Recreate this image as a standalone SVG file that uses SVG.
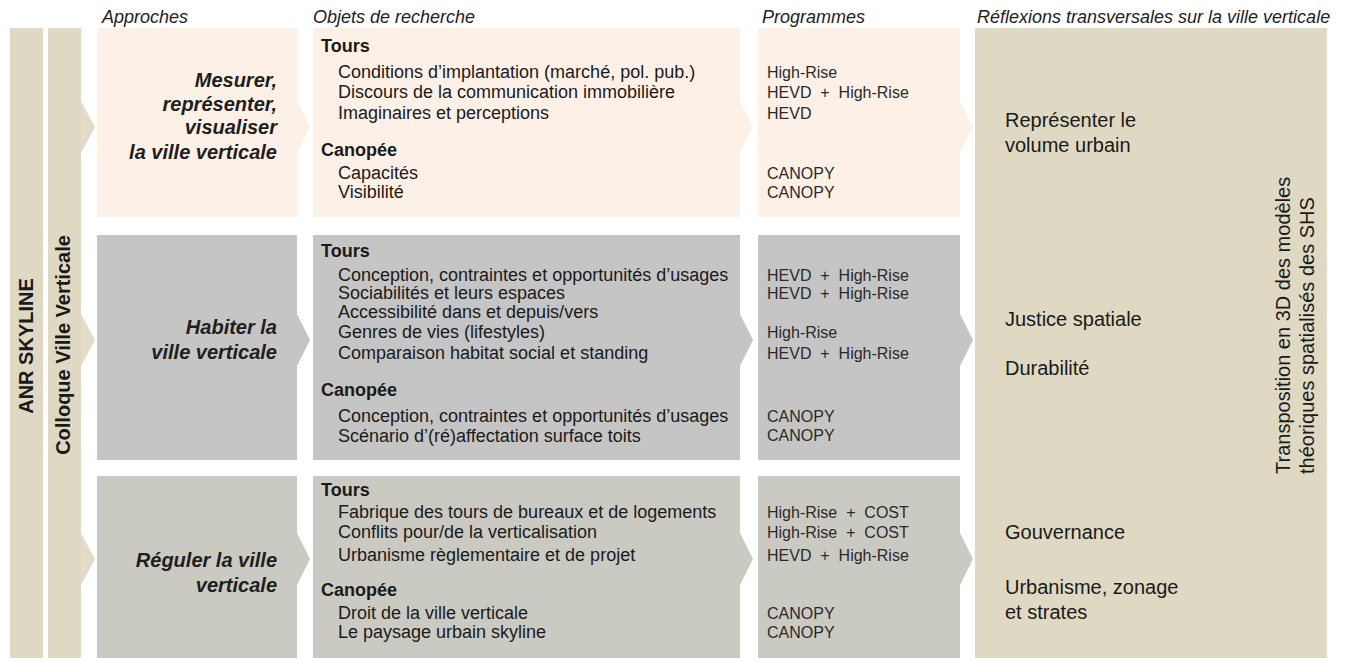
<svg xmlns="http://www.w3.org/2000/svg" width="1352" height="661" viewBox="0 0 1352 661">
<style>
.hdr{font-family:"Liberation Sans",Arial,sans-serif;font-size:18px;font-style:italic;fill:#222}
.bar{fill:#DFD9C3}
.chev0{fill:#E3DDC8}
.r1{fill:#FDF1E7}
.r2{fill:#C5C5C5}
.r3{fill:#CACAC3}
.appr{font-family:"Liberation Sans",Arial,sans-serif;font-size:20px;font-weight:bold;font-style:italic;fill:#1e1e1e;text-anchor:end}
.sec{font-family:"Liberation Sans",Arial,sans-serif;font-size:18px;font-weight:bold;fill:#1a1a1a}
.item{font-family:"Liberation Sans",Arial,sans-serif;font-size:18px;fill:#1a1a1a}
.prog{font-family:"Liberation Sans",Arial,sans-serif;font-size:16px;fill:#2a2a2a;white-space:pre}
.refl{font-family:"Liberation Sans",Arial,sans-serif;font-size:20px;fill:#1a1a1a}
.vbold{font-family:"Liberation Sans",Arial,sans-serif;font-size:20px;font-weight:bold;fill:#1a1a1a}
</style>

<g id="headers">
<text class="hdr" x="102" y="23">Approches</text>
<text class="hdr" x="313" y="23">Objets de recherche</text>
<text class="hdr" x="762" y="23">Programmes</text>
<text class="hdr" x="977" y="23">Réflexions transversales sur la ville verticale</text>
</g>

<g id="anr-skyline">
<rect class="bar" x="10" y="28" width="33" height="630"/>
<text class="vbold" text-anchor="middle" transform="translate(33,346) rotate(-90)">ANR SKYLINE</text>
</g>

<g id="colloque">
<rect class="bar" x="48" y="28" width="33" height="630"/>
<text class="vbold" text-anchor="middle" transform="translate(70,345) rotate(-90)">Colloque Ville Verticale</text>
</g>

<g id="connectors">
<polygon class="chev0" points="81,101 95,127 81,153"/>
<polygon class="chev0" points="81,314 95,340 81,366"/>
<polygon class="chev0" points="81,533 95,559 81,585"/>
<polygon class="r1" points="297,101 310,127 297,153"/>
<polygon class="r1" points="740,101 753,127 740,153"/>
<polygon class="r1" points="960,101 973,127 960,153"/>
<polygon class="r2" points="297,314 310,340 297,366"/>
<polygon class="r2" points="740,314 753,340 740,366"/>
<polygon class="r2" points="960,314 973,340 960,366"/>
<polygon class="r3" points="297,533 310,559 297,585"/>
<polygon class="r3" points="740,533 753,559 740,585"/>
<polygon class="r3" points="960,533 973,559 960,585"/>
</g>

<g id="approach-1">
<rect class="r1" x="97" y="28" width="200" height="189"/>
<text class="appr" x="277" y="87">Mesurer,</text>
<text class="appr" x="277" y="111">représenter,</text>
<text class="appr" x="277" y="134">visualiser</text>
<text class="appr" x="277" y="159">la ville verticale</text>
</g>

<g id="objects-1">
<rect class="r1" x="313" y="28" width="427" height="189"/>
<text class="sec" x="321" y="52">Tours</text>
<text class="item" x="338" y="78">Conditions d’implantation (marché, pol. pub.)</text>
<text class="item" x="338" y="98">Discours de la communication immobilière</text>
<text class="item" x="338" y="119">Imaginaires et perceptions</text>
<text class="sec" x="321" y="156">Canopée</text>
<text class="item" x="338" y="179">Capacités</text>
<text class="item" x="338" y="198">Visibilité</text>
</g>

<g id="programmes-1">
<rect class="r1" x="758" y="28" width="202" height="189"/>
<text class="prog" x="767" y="78">High-Rise</text>
<text class="prog" x="767" y="98">HEVD  +  High-Rise</text>
<text class="prog" x="767" y="119">HEVD</text>
<text class="prog" x="767" y="179">CANOPY</text>
<text class="prog" x="767" y="198">CANOPY</text>
</g>

<g id="approach-2">
<rect class="r2" x="97" y="235" width="200" height="225"/>
<text class="appr" x="277" y="334">Habiter la</text>
<text class="appr" x="277" y="359">ville verticale</text>
</g>

<g id="objects-2">
<rect class="r2" x="313" y="235" width="427" height="225"/>
<text class="sec" x="321" y="257">Tours</text>
<text class="item" x="338" y="281">Conception, contraintes et opportunités d’usages</text>
<text class="item" x="338" y="299">Sociabilités et leurs espaces</text>
<text class="item" x="338" y="318">Accessibilité dans et depuis/vers</text>
<text class="item" x="338" y="338">Genres de vies (lifestyles)</text>
<text class="item" x="338" y="359">Comparaison habitat social et standing</text>
<text class="sec" x="321" y="396">Canopée</text>
<text class="item" x="338" y="422">Conception, contraintes et opportunités d’usages</text>
<text class="item" x="338" y="442">Scénario d’(ré)affectation surface toits</text>
</g>

<g id="programmes-2">
<rect class="r2" x="758" y="235" width="202" height="225"/>
<text class="prog" x="767" y="281">HEVD  +  High-Rise</text>
<text class="prog" x="767" y="299">HEVD  +  High-Rise</text>
<text class="prog" x="767" y="338">High-Rise</text>
<text class="prog" x="767" y="359">HEVD  +  High-Rise</text>
<text class="prog" x="767" y="422">CANOPY</text>
<text class="prog" x="767" y="441">CANOPY</text>
</g>

<g id="approach-3">
<rect class="r3" x="97" y="476" width="200" height="182"/>
<text class="appr" x="277" y="567">Réguler la ville</text>
<text class="appr" x="277" y="592">verticale</text>
</g>

<g id="objects-3">
<rect class="r3" x="313" y="476" width="427" height="182"/>
<text class="sec" x="321" y="496">Tours</text>
<text class="item" x="338" y="518">Fabrique des tours de bureaux et de logements</text>
<text class="item" x="338" y="538">Conflits pour/de la verticalisation</text>
<text class="item" x="338" y="561">Urbanisme règlementaire et de projet</text>
<text class="sec" x="321" y="596">Canopée</text>
<text class="item" x="338" y="619">Droit de la ville verticale</text>
<text class="item" x="338" y="638">Le paysage urbain skyline</text>
</g>

<g id="programmes-3">
<rect class="r3" x="758" y="476" width="202" height="182"/>
<text class="prog" x="767" y="518">High-Rise  +  COST</text>
<text class="prog" x="767" y="538">High-Rise  +  COST</text>
<text class="prog" x="767" y="561">HEVD  +  High-Rise</text>
<text class="prog" x="767" y="619">CANOPY</text>
<text class="prog" x="767" y="638">CANOPY</text>
</g>

<g id="reflexions">
<rect class="bar" x="975" y="28" width="352" height="630"/>
<text class="refl" x="1005" y="127">Représenter le</text>
<text class="refl" x="1005" y="152">volume urbain</text>
<text class="refl" x="1005" y="326">Justice spatiale</text>
<text class="refl" x="1005" y="375">Durabilité</text>
<text class="refl" x="1005" y="539">Gouvernance</text>
<text class="refl" x="1005" y="594">Urbanisme, zonage</text>
<text class="refl" x="1005" y="619">et strates</text>
<text class="refl" transform="translate(1290,474) rotate(-90)">Transposition en 3D des modèles</text>
<text class="refl" transform="translate(1314,474) rotate(-90)">théoriques spatialisés des SHS</text>
</g>
</svg>
